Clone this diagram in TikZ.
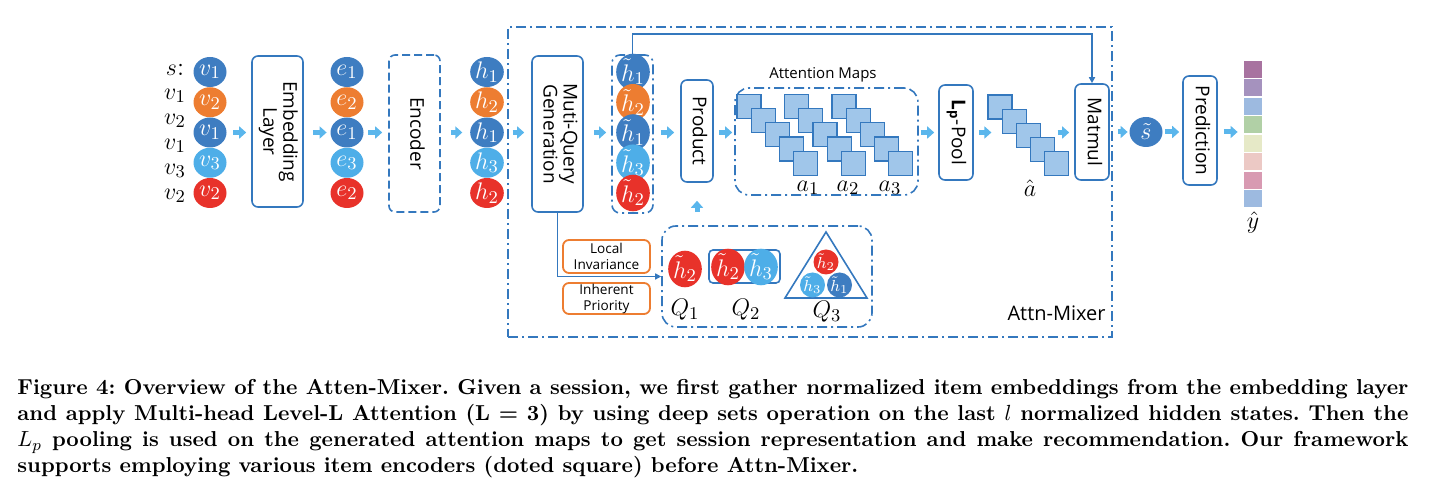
\documentclass[tikz,border=0pt]{standalone}
\usepackage{fontspec}
\usepackage{graphicx}
\setsansfont{Open Sans}
\usetikzlibrary{arrows.meta,shapes.geometric,positioning}

\definecolor{cdark}{RGB}{62,125,193}
\definecolor{corange}{RGB}{237,125,49}
\definecolor{clight}{RGB}{78,174,232}
\definecolor{cred}{RGB}{232,50,42}
\definecolor{cline}{RGB}{52,120,190}
\definecolor{carrow}{RGB}{90,182,236}
\definecolor{csq}{RGB}{160,198,234}
\definecolor{cy1}{RGB}{168,115,160}
\definecolor{cy2}{RGB}{165,146,190}
\definecolor{cy3}{RGB}{157,186,224}
\definecolor{cy4}{RGB}{177,208,166}
\definecolor{cy5}{RGB}{230,233,199}
\definecolor{cy6}{RGB}{236,201,197}
\definecolor{cy7}{RGB}{216,154,178}
\definecolor{cy8}{RGB}{157,186,224}

\newcommand{\vtext}[1]{\rotatebox{-90}{\begin{tabular}{@{}c@{}}#1\end{tabular}}}

\tikzset{
  box/.style={draw=cline, line width=0.8pt, rounded corners=3pt, inner sep=0pt,
    font=\sffamily\fontsize{9.5}{10}\selectfont},
  grp/.style={draw=cline, line width=0.8pt, dash pattern=on 5pt off 2pt on 1pt off 2pt, inner sep=0pt},
  ball/.style={ellipse, minimum width=16.5pt, minimum height=15pt, inner sep=0pt,
    text=white, font=\fontsize{12.5}{12.5}\selectfont},
  sball/.style={circle, minimum size=12.5pt, inner sep=0pt, text=white, font=\fontsize{8.5}{8.5}\selectfont},
  lbl/.style={inner sep=0pt, font=\fontsize{13}{13}\selectfont},
  blockarrow/.style={draw=carrow, line width=2.5pt, -{Triangle[length=3.5pt,width=6pt]}},
  link/.style={draw=cline, line width=0.8pt},
  mapsq/.style={draw=cline, fill=csq, line width=0.6pt, minimum size=12pt, inner sep=0pt},
  tag/.style={draw=corange, line width=0.9pt, rounded corners=3pt, minimum width=43.5pt, inner sep=0pt,
    align=center, font=\sffamily\fontsize{6.8}{8}\selectfont},
  capline/.style={anchor=base west, inner sep=0pt, font=\bfseries\fontsize{10.8}{13}\selectfont},
}

\begin{document}
\frenchspacing
\begin{tikzpicture}[x=0.5pt,y=-0.5pt]
\useasboundingbox (0,0) rectangle (1440,501);

% Attn-Mixer 外框
\node[grp, minimum width=302pt, minimum height=155pt] (mixer) at (810,182) {};
\node[anchor=east, inner sep=0pt, font=\sffamily\fontsize{10}{10}\selectfont] (mixername) at (1106,313) {Attn-Mixer};

% 会话序列
\node[lbl] (s0) at (175,70) {$s$:};
\foreach \t [count=\i] in {v_1,v_2,v_1,v_3,v_2}
  \node[lbl] (s\i) at (175,{71+25*\i}) {$\t$};

% 三列圆
\foreach \r/\c/\k in {1/cdark/1,2/corange/2,3/cdark/1,4/clight/3,5/cred/2}{
  \node[ball, fill=\c] (v\r) at (210,{72+30.25*(\r-1)}) {$v_{\k}$};
  \node[ball, fill=\c] (e\r) at (347,{72+30.25*(\r-1)}) {$e_{\k}$};
  \node[ball, fill=\c] (h\r) at (487,{72+30.25*(\r-1)}) {$h_{\k}$};
}

% 模块
\node[box, minimum width=25.5pt, minimum height=75.5pt] (emb) at (277.5,131.5) {\vtext{Embedding\\Layer}};
\node[box, dash pattern=on 4pt off 2pt, minimum width=25.5pt, minimum height=78.5pt] (enc) at (414.5,133.5) {\vtext{Encoder}};
\node[box, minimum width=25.5pt, minimum height=78pt] (mqg) at (557.5,134) {\vtext{Muti-Query\\Generation}};

% 多查询
\node[grp, rounded corners=4pt, minimum width=20.5pt, minimum height=79pt] (hgrp) at (632.5,134) {};
\foreach \r/\c/\k in {1/cdark/1,2/corange/2,3/cdark/1,4/clight/3,5/cred/2}
  \node[ball, fill=\c] (ht\r) at (633,{72+30.25*(\r-1)}) {$\tilde{h}_{\k}$};

\node[box, minimum width=16pt, minimum height=51pt] (prod) at (697,131) {\vtext{Product}};

% 注意力图
\node[grp, rounded corners=7pt, minimum width=91.5pt, minimum height=53.5pt] (maps) at (826.5,141.5) {};
\node[inner sep=0pt, font=\sffamily\fontsize{7.5}{8}\selectfont] (mapsname) at (823,75) {Attention Maps};
\foreach \g in {0,1,2}
  \foreach \k in {0,...,4}
    \node[mapsq] (m\g\k) at ({749+47.5*\g+14.2*\k},{106.5+14.2*\k}) {};
\foreach \g/\x in {1/808,2/848,3/890}
  \node[lbl] (a\g) at (\x,188) {$a_{\g}$};

\node[box, minimum width=17pt, minimum height=47.5pt] (pool) at (956,132.5) {\vtext{{\bfseries L\textsubscript{p}}-Pool}};

\foreach \k in {1,...,5}
  \node[mapsq] (ah\k) at ({1000+14.2*(\k-1)},{107+14.2*(\k-1)}) {};
\node[lbl] (ahat) at (1030,188) {$\hat{a}$};

\node[box, minimum width=17pt, minimum height=48pt] (mat) at (1092,132) {\vtext{Matmul}};
\node[ball, fill=cdark] (stil) at (1146,132) {$\tilde{s}$};
\node[box, minimum width=17pt, minimum height=54.5pt] (pred) at (1200,130.5) {\vtext{Prediction}};

% 输出向量
\foreach \c [count=\i] in {cy1,cy2,cy3,cy4,cy5,cy6,cy7,cy8}
  \node[minimum width=9pt, minimum height=8.5pt, inner sep=0pt, fill=\c] (y\i) at (1253,{69.25+18.5*(\i-1)}) {};
\node[lbl] (yhat) at (1253,223) {$\hat{y}$};

% 查询生成
\node[tag, minimum height=16.5pt] (li) at (606.5,256.5) {Local\\Invariance};
\node[tag, minimum height=15.5pt] (ip) at (606.5,298.5) {Inherent\\Priority};
\node[grp, rounded corners=7pt, minimum width=105pt, minimum height=50.5pt] (qgrp) at (767,276.5) {};
\node[ball, fill=cred] (q1a) at (685,269) {$\tilde{h}_2$};
\node[draw=cline, line width=0.8pt, rounded corners=2pt, minimum width=35.5pt, minimum height=16.5pt] (q2box) at (744.5,266.5) {};
\node[ball, fill=cred] (q2a) at (728,267) {$\tilde{h}_2$};
\node[ball, fill=clight] (q2b) at (761,267) {$\tilde{h}_3$};
\draw[link] (826,232) -- (867,298) -- (785,298) -- cycle;
\node[sball, fill=cred] (q3a) at (826,262) {$\tilde{h}_2$};
\node[sball, fill=clight] (q3b) at (812.5,285) {$\tilde{h}_3$};
\node[sball, fill=cdark] (q3c) at (839.5,285) {$\tilde{h}_1$};
\node[lbl] (Q1) at (685,310) {$Q_1$};
\node[lbl] (Q2) at (746,310) {$Q_2$};
\node[lbl] (Q3) at (827,312) {$Q_3$};

% 连线
\coordinate (top) at (0,34);
\draw[link, -{Triangle[length=3pt,width=3pt]}] (hgrp.north) -- (hgrp.north |- top) -| (mat.north);
\draw[link, -{Triangle[length=3pt,width=3pt]}] (mqg.south) |- (qgrp.west);

% 箭头
\draw[blockarrow, shorten <=3.25pt, shorten >=2.5pt] (v3.east) -- (v3.east -| emb.west);
\draw[blockarrow, shorten <=4.5pt, shorten >=1.75pt] (emb.east |- e3) -- (e3.west);
\draw[blockarrow, shorten <=2.25pt, shorten >=3pt] (e3.east) -- (e3.east -| enc.west);
\draw[blockarrow, shorten <=5pt, shorten >=3.75pt] (enc.east |- h3) -- (h3.west);
\draw[blockarrow, shorten <=4.25pt, shorten >=3.5pt] (h3.east) -- (h3.east -| mqg.west);
\draw[blockarrow, shorten <=5pt, shorten >=2.5pt] (mqg.east |- ht3) -- (hgrp.west |- ht3);
\draw[blockarrow, shorten <=3.5pt, shorten >=3pt] (hgrp.east |- ht3) -- (prod.west |- ht3);
\draw[blockarrow, shorten <=2.5pt, shorten >=1pt] (prod.east |- ht3) -- (maps.west |- ht3);
\draw[blockarrow, shorten <=1pt, shorten >=2pt] (maps.east |- ht3) -- (pool.west |- ht3);
\draw[blockarrow, shorten <=2.5pt, shorten >=-2pt] (pool.east |- ht3) -- (ah1.west |- ht3);
\draw[blockarrow, shorten <=8.3pt, shorten >=2.5pt] (ah3.east |- ht3) -- (mat.west |- ht3);
\draw[blockarrow, shorten <=4pt, shorten >=0.75pt] (mat.east |- stil) -- (stil.west);
\draw[blockarrow, shorten <=1.25pt, shorten >=1.5pt] (stil.east) -- (stil.east -| pred.west);
\draw[blockarrow, shorten <=3pt, shorten >=3pt] (pred.east |- stil) -- (stil -| y1.west);
\draw[blockarrow, shorten <=6.5pt, shorten >=9pt] (prod.south |- qgrp.north) -- (prod.south);

% 图注
\node[capline] (cap1) at (17,395) {\makebox[695.5pt][s]{Figure 4: Overview of the Atten-Mixer. Given a session, we first gather normalized item embeddings from the embedding layer}};
\node[capline] (cap2) at (17,421) {\makebox[695.5pt][s]{and apply Multi-head Level-L Attention (L = 3) by using deep sets operation on the last $l$ normalized hidden states. Then the}};
\node[capline] (cap3) at (17,447) {\makebox[695.5pt][s]{$L_p$ pooling is used on the generated attention maps to get session representation and make recommendation. Our framework}};
\node[capline] (cap4) at (17,473) {supports employing various item encoders (doted square) before Attn-Mixer.};
\end{tikzpicture}
\end{document}
